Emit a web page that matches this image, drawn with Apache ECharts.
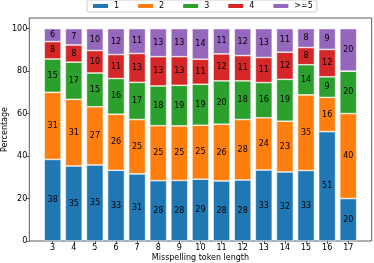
<!DOCTYPE html>
<html><head><meta charset="utf-8">
<script src="https://cdn.jsdelivr.net/npm/echarts@6/dist/echarts.min.js"></script>
<style>html,body{margin:0;padding:0;background:#fff}#c{width:374px;height:263px}</style>
</head><body><div id="c"></div>
<script>
const lengths = ['3','4','5','6','7','8','9','10','11','12','13','14','15','16','17'];
const seriesNames = ['1','2','3','4','>=5'];
const s1 = [38.4,35.3,35.8,33.3,31.6,28.4,28.5,29.1,28.3,28.7,33.4,32.5,33.2,51.5,20];
const s2 = [31.6,31.4,27.4,26.4,25.6,25.9,25.7,25.4,26.7,28.5,24.6,23.9,35.6,16.1,40];
const s3 = [15.7,17.5,15.9,16.8,17.5,18.7,19.1,19.3,20.4,18.2,16.6,19.7,14.2,9.7,20];
const s4 = [8.2,8.1,10.6,11.3,13.6,13.8,13.5,11.8,12.7,11.9,11.8,12.8,8.1,12.9,0];
const s5 = [6.1,7.7,10.3,12.2,11.7,13.2,13.2,14.4,11.9,12.7,13.6,11.1,8.9,9.8,20];
const yTicks = [0,20,40,60,80,100];
const colors = ['#1f77b4','#ff7f0e','#2ca02c','#d62728','#9467bd'];
const allSeries = [s1,s2,s3,s4,s5];
const font = 'DejaVu Sans';

const chart = echarts.init(document.getElementById('c'), null, {renderer:'canvas'});
chart.setOption({
  animation:false,
  textStyle:{fontFamily:font},
  legend:{
    left:87, top:0, icon:'rect', itemWidth:17, itemHeight:6, itemGap:17,
    padding:[2,4,2,4], borderColor:'#cccccc', borderWidth:1, borderRadius:2,
    backgroundColor:'rgba(255,255,255,0.8)',
    textStyle:{fontSize:8, color:'#000', fontFamily:font},
    data:seriesNames
  },
  grid:[
    {left:42.1, right:15.2, top:18, bottom:22, outerBoundsMode:'none', containLabel:false},
    {left:29.3, right:2.3, top:18, bottom:22, show:true, borderColor:'#333', borderWidth:0.8, z:0, outerBoundsMode:'none', containLabel:false}
  ],
  xAxis:[{
    type:'category', data:lengths, gridIndex:0,
    name:'Misspelling token length', nameLocation:'middle', nameGap:13, nameMoveOverlap:false,
    nameTextStyle:{fontSize:8, color:'#000', fontFamily:font},
    axisLine:{show:false},
    axisTick:{show:true, length:3, alignWithLabel:true, lineStyle:{color:'#333', width:0.8}},
    axisLabel:{fontSize:8, color:'#000', margin:3, fontFamily:font},
    splitLine:{show:false}
  },{
    type:'value', gridIndex:1, show:false
  }],
  yAxis:[{
    type:'value', min:0, max:105, gridIndex:0, show:false
  },{
    type:'value', gridIndex:1, min:0, max:105,
    name:'Percentage', nameLocation:'middle', nameGap:20, nameMoveOverlap:false,
    nameTextStyle:{fontSize:8, color:'#000', fontFamily:font},
    axisLine:{show:false},
    axisTick:{show:true, length:3, customValues:yTicks, lineStyle:{color:'#333', width:0.8}},
    axisLabel:{fontSize:8, color:'#000', margin:2, customValues:yTicks, fontFamily:font},
    splitLine:{show:false}
  }],
  series: allSeries.map((arr,i)=>({
    name:seriesNames[i], type:'bar', stack:'all', barWidth:16.9,
    xAxisIndex:0, yAxisIndex:0,
    itemStyle:{color:colors[i], borderColor:'#fff', borderWidth:0.6},
    label:{show:true, position:'inside', fontSize:8, color:'#000', fontFamily:font,
      formatter:p=>{const v=p.value; return v>0?String(Math.floor(v)):'';}},
    data: arr
  }))
});
</script></body></html>
